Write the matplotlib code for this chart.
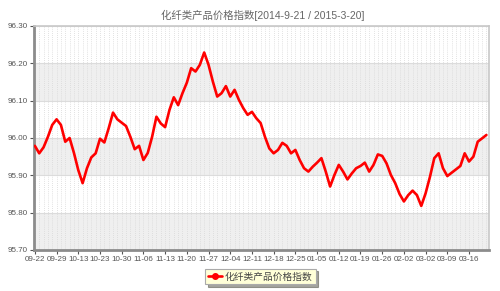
import matplotlib
matplotlib.use("Agg")
import matplotlib.pyplot as plt
import numpy as np

plt.rcParams['font.family'] = ['Liberation Sans', 'Noto Sans CJK SC', 'DejaVu Sans']

title = "化纤类产品价格指数[2014-9-21 / 2015-3-20]"
series_name = "化纤类产品价格指数"

# one value per trading day, 2014-09-22 .. 2015-03-20
values = [
	95.979, 95.959, 95.975, 96.003, 96.035, 96.050, 96.035, 95.990, 96.000, 95.960,
	95.914, 95.879, 95.919, 95.948, 95.959, 95.998, 95.988, 96.026, 96.068, 96.050,
	96.041, 96.032, 96.003, 95.970, 95.979, 95.941, 95.960, 96.003, 96.057, 96.039,
	96.029, 96.075, 96.109, 96.088, 96.120, 96.148, 96.187, 96.178, 96.196, 96.229,
	96.196, 96.151, 96.111, 96.120, 96.139, 96.111, 96.129, 96.102, 96.080, 96.062,
	96.070, 96.053, 96.040, 96.003, 95.972, 95.959, 95.968, 95.987, 95.979, 95.959,
	95.968, 95.941, 95.919, 95.910, 95.923, 95.934, 95.946, 95.910, 95.870, 95.901,
	95.928, 95.910, 95.889, 95.905, 95.919, 95.925, 95.934, 95.910, 95.928, 95.956,
	95.952, 95.932, 95.901, 95.879, 95.850, 95.830, 95.847, 95.859, 95.847, 95.818,
	95.852, 95.896, 95.946, 95.959, 95.919, 95.898, 95.907, 95.916, 95.925, 95.959,
	95.937, 95.950, 95.990, 95.999, 96.008,
]

tick_labels = ["09-22", "09-29", "10-13", "10-23", "10-30", "11-06", "11-13",
			   "11-20", "11-27", "12-04", "12-11", "12-18", "12-25", "01-05",
			   "01-12", "01-19", "01-26", "02-02", "03-02", "03-09", "03-16"]

y_ticks = [95.70, 95.80, 95.90, 96.00, 96.10, 96.20, 96.30]

x = np.arange(len(values))

fig = plt.figure(figsize=(5.0, 2.91), dpi=100)
ax = fig.add_axes([0.068, 0.1409, 0.910, 0.7698])

# alternating bands
for k in range(len(y_ticks) - 1):
	if k % 2 == 0:
		ax.axhspan(y_ticks[k], y_ticks[k + 1], color='#efefef', zorder=0, lw=0)

for yv in y_ticks:
	ax.axhline(yv, color='#dcdcdc', lw=0.8, zorder=1)

for xi in x:
	ax.axvline(xi, color='#d8d8d8', lw=0.6, ls=(0, (1, 1.5)), zorder=1)

ax.plot(x, values, color='#ff0000', lw=1.9, zorder=3, solid_joinstyle='round',
		solid_capstyle='round', label=series_name)

ax.set_xlim(-0.2, 104.6)
ax.set_ylim(95.70, 96.30)
ax.set_yticks(y_ticks)
ax.set_yticklabels(["%.2f" % v for v in y_ticks])
ax.set_xticks(x[::5])
ax.set_xticklabels(tick_labels)
ax.tick_params(axis='both', labelsize=5.8, colors='#555555', length=3, width=0.8, pad=1.5)

for s in ['left', 'bottom']:
	ax.spines[s].set_color('#8c8c8c')
	ax.spines[s].set_linewidth(2)
for s in ['top', 'right']:
	ax.spines[s].set_color('#c8c8c8')
	ax.spines[s].set_linewidth(1.2)

fig.text(0.525, 0.948, title, ha='center', va='center', fontsize=7.5, color='#666666')

leg = fig.legend(loc='center', bbox_to_anchor=(0.521, 0.05), fontsize=7, frameon=True,
				 fancybox=False, shadow=True, handlelength=1.4, borderpad=0.3,
				 handletextpad=0.3)
leg.get_frame().set_facecolor('#ffffd8')
leg.get_frame().set_edgecolor('#aaaaaa')
leg.get_frame().set_linewidth(0.8)
for t in leg.get_texts():
	t.set_color('#444444')
leg.legend_handles[0].set_marker('o')
leg.legend_handles[0].set_markersize(4)

fig.savefig("out.png", dpi=100)
